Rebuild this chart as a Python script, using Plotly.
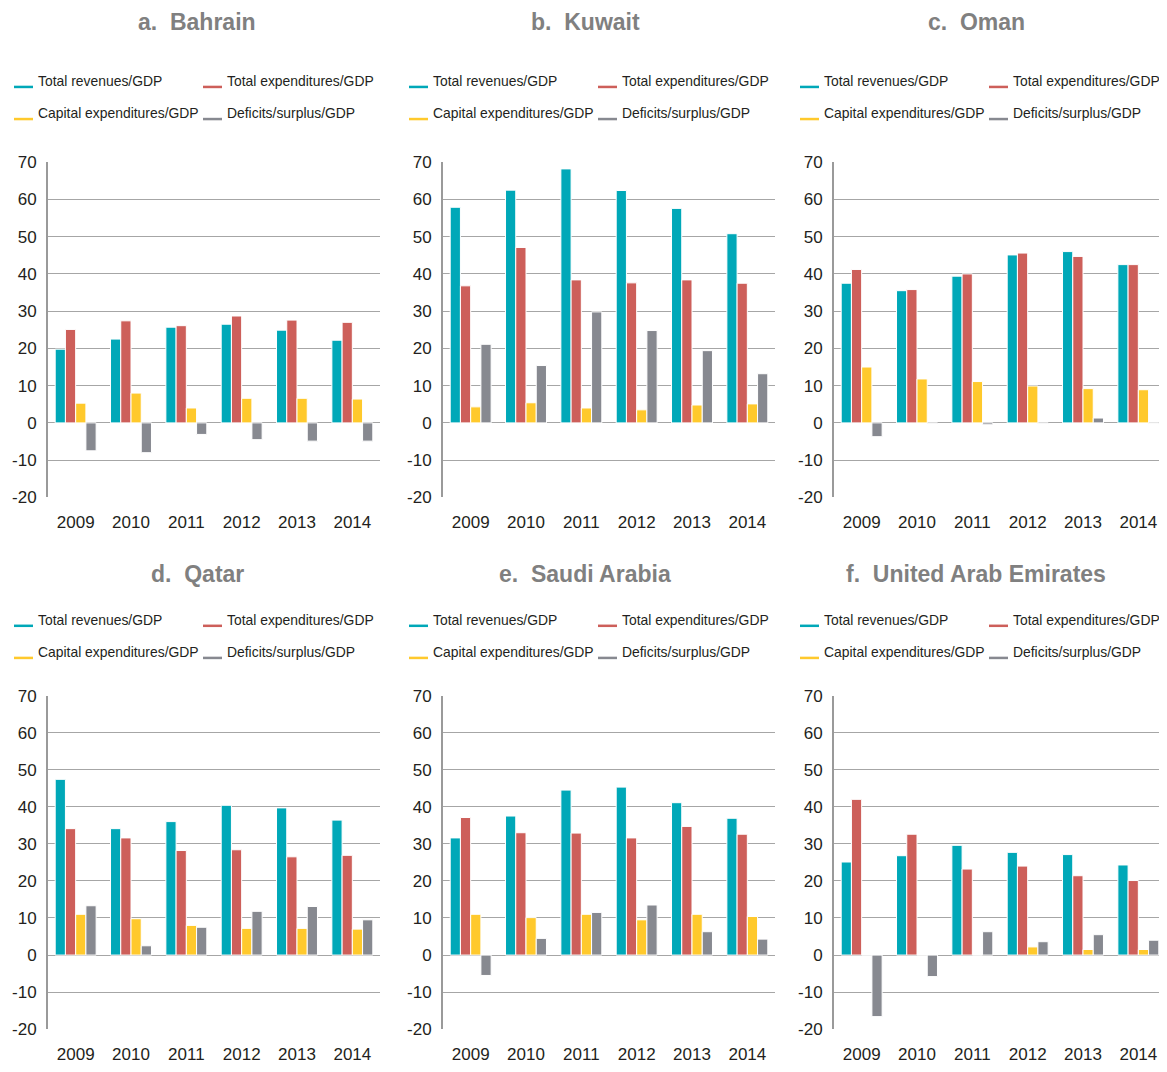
import plotly.graph_objects as go

# ---------------- data ----------------
years = ["2009", "2010", "2011", "2012", "2013", "2014"]
series_names = ["Total revenues/GDP", "Total expenditures/GDP",
                "Capital expenditures/GDP", "Deficits/surplus/GDP"]
panel_titles = ["a.\u00a0 Bahrain", "b.\u00a0 Kuwait", "c.\u00a0 Oman",
                "d.\u00a0 Qatar", "e.\u00a0 Saudi Arabia", "f.\u00a0 United Arab Emirates"]
y_tick_values = [-20, -10, 0, 10, 20, 30, 40, 50, 60, 70]
y_tick_labels = ["-20", "-10", "0", "10", "20", "30", "40", "50", "60", "70"]

bahrain_revenues = [19.8, 22.5, 25.7, 26.5, 24.9, 22.2]
bahrain_expenditures = [25.1, 27.4, 26.1, 28.7, 27.6, 27.0]
bahrain_capital = [5.3, 8.0, 4.0, 6.6, 6.6, 6.4]
bahrain_balance = [-7.5, -8.0, -3.1, -4.5, -4.9, -4.9]

kuwait_revenues = [57.9, 62.5, 68.2, 62.4, 57.6, 50.8]
kuwait_expenditures = [36.8, 47.1, 38.4, 37.6, 38.4, 37.5]
kuwait_capital = [4.3, 5.4, 4.0, 3.5, 4.8, 5.1]
kuwait_balance = [21.1, 15.4, 29.8, 24.8, 19.4, 13.2]

oman_revenues = [37.5, 35.5, 39.4, 45.1, 46.0, 42.5]
oman_expenditures = [41.2, 35.8, 40.0, 45.6, 44.7, 42.5]
oman_capital = [15.0, 11.8, 11.1, 9.9, 9.2, 8.9]
oman_balance = [-3.7, -0.2, -0.5, -0.2, 1.3, -0.1]

qatar_revenues = [47.4, 34.1, 36.0, 40.4, 39.7, 36.4]
qatar_expenditures = [34.1, 31.6, 28.2, 28.4, 26.5, 26.9]
qatar_capital = [11.0, 9.8, 8.0, 7.2, 7.2, 7.0]
qatar_balance = [13.3, 2.5, 7.5, 11.8, 13.1, 9.5]

saudi_revenues = [31.6, 37.5, 44.5, 45.3, 41.1, 36.9]
saudi_expenditures = [37.1, 33.0, 32.9, 31.6, 34.7, 32.6]
saudi_capital = [11.0, 10.1, 11.0, 9.5, 11.0, 10.4]
saudi_balance = [-5.5, 4.5, 11.5, 13.5, 6.3, 4.3]

uae_revenues = [25.1, 26.8, 29.6, 27.7, 27.1, 24.3]
uae_expenditures = [42.0, 32.6, 23.2, 24.0, 21.4, 20.1]
uae_capital = [0.0, 0.0, 0.0, 2.2, 1.5, 1.5]
uae_balance = [-16.6, -5.8, 6.3, 3.6, 5.5, 4.0]

panels = [
    [bahrain_revenues, bahrain_expenditures, bahrain_capital, bahrain_balance],
    [kuwait_revenues, kuwait_expenditures, kuwait_capital, kuwait_balance],
    [oman_revenues, oman_expenditures, oman_capital, oman_balance],
    [qatar_revenues, qatar_expenditures, qatar_capital, qatar_balance],
    [saudi_revenues, saudi_expenditures, saudi_capital, saudi_balance],
    [uae_revenues, uae_expenditures, uae_capital, uae_balance],
]

# ---------------- style / layout ----------------
colors = ["#00A8B8", "#CD5F5A", "#FFC92C", "#878990"]

# page -> screen calibration (body margin and vertical capture scale)
X_OFF = 8
Y_OFF = 17.3
Y_SCALE = 0.979
W, H = 1159, 1080

# target positions (screen pixels of the reference)
col_left = [48, 443, 834]
plot_w = 332
row_top = [162, 693.5]
row_h = [334, 332.5]
title_cx = [197, 585, 976]
title_y = [22, 572]
legend_rows = [[81, 113], [618, 650]]
legend_col_off = [-34, 155]
legend_line_len = 19
legend_text_gap = 22

FONT = "Liberation Sans, Arial, sans-serif"
TEXT_COLOR = "#231F20"
GRID = "#A6A6A6"
AXIS = "#9A9A9A"


def fx(x):
    return min(1.0, (x - X_OFF) / W)


def fy(y):
    return 1 - ((y - Y_OFF) / Y_SCALE) / H


fig = go.Figure()
layout = dict(
    width=W, height=H, margin=dict(l=0, r=0, t=0, b=0),
    paper_bgcolor="white", plot_bgcolor="white",
    barmode="group", bargap=0.26, bargroupgap=0.0,
    showlegend=False,
)
shapes = []
annotations = []

for i, vals in enumerate(panels):
    r, c = divmod(i, 3)
    left = col_left[c]
    right = left + plot_w
    top = row_top[r]
    bottom = top + row_h[r]
    n = i + 1
    xname = "x" if n == 1 else f"x{n}"
    yname = "y" if n == 1 else f"y{n}"
    xkey = "xaxis" if n == 1 else f"xaxis{n}"
    ykey = "yaxis" if n == 1 else f"yaxis{n}"

    for s in range(4):
        fig.add_trace(go.Bar(
            x=years, y=vals[s], name=series_names[s],
            marker=dict(color=colors[s], line=dict(color="white", width=1)),
            xaxis=xname, yaxis=yname, showlegend=False,
        ))

    layout[xkey] = dict(
        domain=[fx(left), fx(right)], anchor=yname, type="category",
        showgrid=False, showline=False, zeroline=False, ticks="",
        tickfont=dict(family=FONT, size=17, color=TEXT_COLOR),
        ticklabelstandoff=13,
    )
    layout[ykey] = dict(
        domain=[fy(bottom), fy(top)], anchor=xname, range=[-20, 70],
        tickmode="array", tickvals=y_tick_values, ticktext=y_tick_labels,
        showgrid=True, gridcolor=GRID, gridwidth=1.3,
        showline=True, linecolor=AXIS, linewidth=2,
        zeroline=False, ticks="",
        tickfont=dict(family=FONT, size=17, color=TEXT_COLOR),
        ticklabelstandoff=6,
    )
    zero_y = top + row_h[r] * 70 / 90
    okey = f"xaxis{n + 6}"
    layout[okey] = dict(
        overlaying=xname, anchor="free", position=fy(zero_y),
        domain=[fx(left), fx(right)],
        range=[-0.5, 5.5], tickmode="array", tickvals=[0.5, 1.5, 2.5, 3.5, 4.5],
        ticks="outside", ticklen=4, tickcolor=AXIS, tickwidth=1,
        showticklabels=False, showline=True, linecolor=GRID, linewidth=1.3,
        showgrid=False, zeroline=False,
    )

    annotations.append(dict(
        x=fx(title_cx[c]), y=fy(title_y[r]), xref="paper", yref="paper",
        text=f"<b>{panel_titles[i]}</b>", showarrow=False,
        xanchor="center", yanchor="middle",
        font=dict(family=FONT, size=23, color="#808080"),
    ))

    for s in range(4):
        lr, lc = divmod(s, 2)
        ly = legend_rows[r][lr]
        lx = left + legend_col_off[lc]
        shapes.append(dict(
            type="line", xref="paper", yref="paper",
            x0=fx(lx), x1=fx(lx + legend_line_len), y0=fy(ly + 6), y1=fy(ly + 6),
            line=dict(color=colors[s], width=2.5),
        ))
        annotations.append(dict(
            x=fx(lx + legend_text_gap), y=fy(ly), xref="paper", yref="paper",
            text=series_names[s], showarrow=False, xanchor="left", yanchor="middle",
            font=dict(family=FONT, size=13.9, color=TEXT_COLOR),
        ))

layout["shapes"] = shapes
layout["annotations"] = annotations
fig.update_layout(**layout)
fig.write_html("out.html")
